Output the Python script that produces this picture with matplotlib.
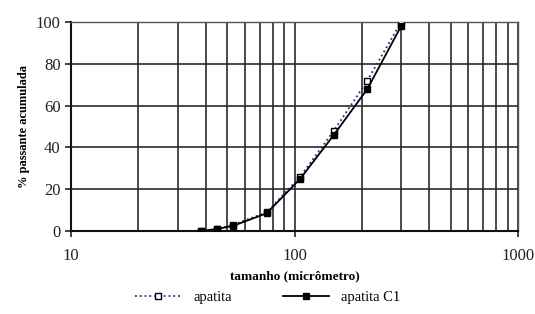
import matplotlib
matplotlib.use("Agg")
import matplotlib.pyplot as plt
from matplotlib.ticker import LogLocator, NullFormatter, FixedLocator

sizes = [38, 45, 53, 75, 106, 150, 212, 300]
apatita = [0, 1, 3, 9, 26, 48, 72, 100]
apatita_c1 = [0, 1, 2.5, 8.5, 25, 46, 68, 98]
x_ticks = [10, 100, 1000]
x_tick_labels = ["10", "100", "1000"]
y_ticks = [0, 20, 40, 60, 80, 100]

plt.rcParams['font.family'] = ['Liberation Serif', 'DejaVu Serif']

fig = plt.figure(figsize=(5.35, 3.14), dpi=100)
ax = fig.add_axes([0.133, 0.264, 0.835, 0.666])

ax.set_xscale('log')
ax.set_xlim(10, 1000)
ax.set_ylim(0, 100)

ax.xaxis.set_major_locator(FixedLocator(x_ticks))
ax.set_xticklabels(x_tick_labels)
ax.xaxis.set_minor_locator(LogLocator(base=10, subs=range(2, 10)))
ax.xaxis.set_minor_formatter(NullFormatter())
ax.set_yticks(y_ticks)

ax.grid(True, which='both', axis='x', color='#2a2a2a', linewidth=1.2)
ax.grid(True, which='major', axis='y', color='#2a2a2a', linewidth=1.2)
ax.tick_params(axis='x', which='minor', length=0)
ax.tick_params(axis='both', which='major', length=4, width=1.2, labelsize=12, colors='#222222')
ax.tick_params(axis='x', pad=8)
for s in ['top', 'right']:
    ax.spines[s].set_color('#555555')
    ax.spines[s].set_linewidth(1.0)
for s in ['left', 'bottom']:
    ax.spines[s].set_color('#111111')
    ax.spines[s].set_linewidth(1.5)

ax.plot(sizes, apatita, linestyle=':', color='#2b2b8c', linewidth=1.3,
        marker='s', markersize=5, markerfacecolor='white', markeredgecolor='black',
        markeredgewidth=1.0, label='apatita', zorder=3)
ax.plot(sizes, apatita_c1, linestyle='-', color='black', linewidth=1.3,
        marker='s', markersize=5, markerfacecolor='black', markeredgecolor='black',
        label='apatita C1', zorder=4)

ax.set_xlabel('tamanho (micrômetro)', fontsize=9.5, fontweight='bold', labelpad=5)
ax.set_ylabel('% passante acumulada', fontsize=9, fontweight='bold', labelpad=4)

fig.legend(loc='center', bbox_to_anchor=(0.5, 297/314 * 0 + 1 - 297/314), ncol=2, frameon=False,
           fontsize=10.5, handlelength=3.2, columnspacing=3.5, borderpad=0.1)

fig.savefig('out.png', dpi=100)
